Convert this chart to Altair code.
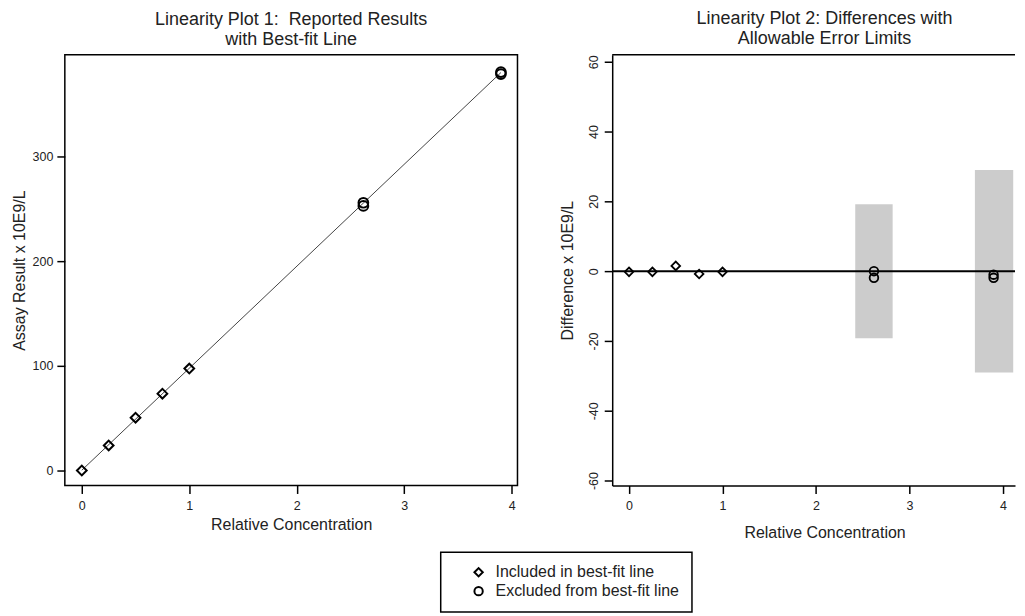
import altair as alt
import pandas as pd

INCL = "Included in best-fit line"
EXCL = "Excluded from best-fit line"

# Plot 1: reported results
conc_incl = [0.0, 0.25, 0.5, 0.75, 1.0]
result_incl = [0.0, 24.0, 50.5, 73.5, 97.5]
conc_excl = [2.62, 2.62, 3.9, 3.9]
result_excl = [256.0, 253.0, 381.0, 379.0]

# best-fit line end points
fit_conc = [0.0, 3.9]
fit_result = [0.3, 380.5]

# Plot 2: differences
diff_incl = [-0.2, -0.2, 1.5, -0.8, -0.2]
diff_excl = [0.0, -1.9, -1.0, -1.9]

# allowable error limits (grey boxes)
limit_x1 = [2.42, 3.70]
limit_x2 = [2.82, 4.11]
limit_lo = [-19.2, -29.0]
limit_hi = [19.2, 29.0]

x_ticks = [0, 1, 2, 3, 4]
y1_ticks = [0, 100, 200, 300]
y2_ticks = [-60, -40, -20, 0, 20, 40, 60]
zero_line = [0]

FONT = "Liberation Sans"
TXT = "#222222"

pts = pd.DataFrame({
    "conc": conc_incl + conc_excl,
    "result": result_incl + result_excl,
    "diff": diff_incl + diff_excl,
    "group": [INCL] * len(conc_incl) + [EXCL] * len(conc_excl),
})
fit_df = pd.DataFrame({"conc": fit_conc, "result": fit_result})
lim_df = pd.DataFrame({"x1": limit_x1, "x2": limit_x2, "lo": limit_lo, "hi": limit_hi})
zero_df = pd.DataFrame({"d": zero_line})

shape_scale = alt.Scale(domain=[INCL, EXCL], range=["diamond", "circle"])

axis_common = dict(
    grid=False, tickColor="black", tickWidth=1.5, tickSize=8,
    labelFont=FONT, labelFontSize=12.5, labelColor=TXT,
    titleFont=FONT, titleFontSize=16, titleFontWeight="normal", titleColor=TXT,
)

W1, H = 454, 432
W2 = 404

# ---------- Left panel ----------
xs1 = alt.Scale(domain=[-0.158, 4.054], nice=False, zero=False)
ys1 = alt.Scale(domain=[-14.3, 397.5], nice=False, zero=False)
X1 = alt.X("conc:Q", scale=xs1, axis=alt.Axis(
    values=x_ticks, title="Relative Concentration", domain=False,
    labelPadding=6, titlePadding=5, **axis_common))
Y1 = alt.Y("result:Q", scale=ys1, axis=alt.Axis(
    values=y1_ticks, title="Assay Result x 10E9/L", domain=False,
    labelPadding=4, titlePadding=5, **axis_common))

fit_layer = alt.Chart(fit_df).mark_line(color="#444444", strokeWidth=1).encode(x=X1, y=Y1)
pts1 = alt.Chart(pts).mark_point(filled=False, strokeWidth=2, size=95, color="black", opacity=1).encode(
    x=X1, y=Y1,
    shape=alt.Shape("group:N", scale=shape_scale, legend=alt.Legend(
        title=None, orient="none", legendX=377, legendY=499, padding=12,
        symbolOffset=18, labelOffset=9, rowPadding=1, labelLimit=400,
        strokeColor="black", fillColor="white",
        labelFont=FONT, labelFontSize=16, labelColor=TXT,
        symbolStrokeColor="black", symbolStrokeWidth=2, symbolSize=70,
        symbolFillColor="transparent",
    )),
)
left = alt.layer(fit_layer, pts1).properties(
    width=W1, height=H,
    view=alt.ViewBackground(stroke="black", strokeWidth=1.5),
    title=alt.TitleParams(
        text=["Linearity Plot 1:\u00a0 Reported Results", "with Best-fit Line"],
        font=FONT, fontSize=18, fontWeight="normal", color=TXT,
        offset=6, lineHeight=20, anchor="middle"),
)

# ---------- Right panel ----------
xs2 = alt.Scale(domain=[-0.18, 4.129], nice=False, zero=False)
ys2 = alt.Scale(domain=[-61.4, 62.0], nice=False, zero=False)
ax2x = alt.Axis(values=x_ticks, title="Relative Concentration", domain=True,
                domainColor="black", domainWidth=1.5, labelPadding=6,
                titlePadding=13, titleX=213, **axis_common)
ax2y = alt.Axis(values=y2_ticks, title="Difference x 10E9/L", domain=True,
                domainColor="black", domainWidth=1.5, labelAngle=270,
                labelExpr="'' + datum.value", labelPadding=4, titlePadding=12,
                **axis_common)

bands = alt.Chart(lim_df).mark_rect(color="#cccccc").encode(
    x=alt.X("x1:Q", scale=xs2, axis=ax2x), x2="x2:Q",
    y=alt.Y("lo:Q", scale=ys2, axis=ax2y), y2="hi:Q",
)
zero_rule = alt.Chart(zero_df).mark_rule(color="black", strokeWidth=2).encode(
    y=alt.Y("d:Q", scale=ys2, axis=ax2y))
top_edge = alt.Chart(zero_df).mark_rule(color="black", strokeWidth=1.5).encode(
    x=alt.value(0), x2=alt.value(W2), y=alt.value(0))
pts2 = alt.Chart(pts).mark_point(filled=False, strokeWidth=1.8, size=75, color="black", opacity=1).encode(
    x=alt.X("conc:Q", scale=xs2, axis=ax2x),
    y=alt.Y("diff:Q", scale=ys2, axis=ax2y),
    shape=alt.Shape("group:N", scale=shape_scale, legend=None),
)
right = alt.layer(bands, zero_rule, top_edge, pts2).properties(
    width=W2, height=H,
    view=alt.ViewBackground(stroke="transparent"),
    title=alt.TitleParams(
        text=["Linearity Plot 2: Differences with", "Allowable Error Limits"],
        font=FONT, fontSize=18, fontWeight="normal", color=TXT,
        offset=6, lineHeight=20, anchor="middle", dx=11),
)

chart = alt.hconcat(left, right, spacing=95, bounds="flush").resolve_scale(
    shape="independent"
).properties(
    padding={"left": 2, "top": 0, "right": 0, "bottom": 0},
).configure_legend(strokeWidth=1.5)

chart.save("out.html", embed_options={"renderer": "svg", "actions": False})
